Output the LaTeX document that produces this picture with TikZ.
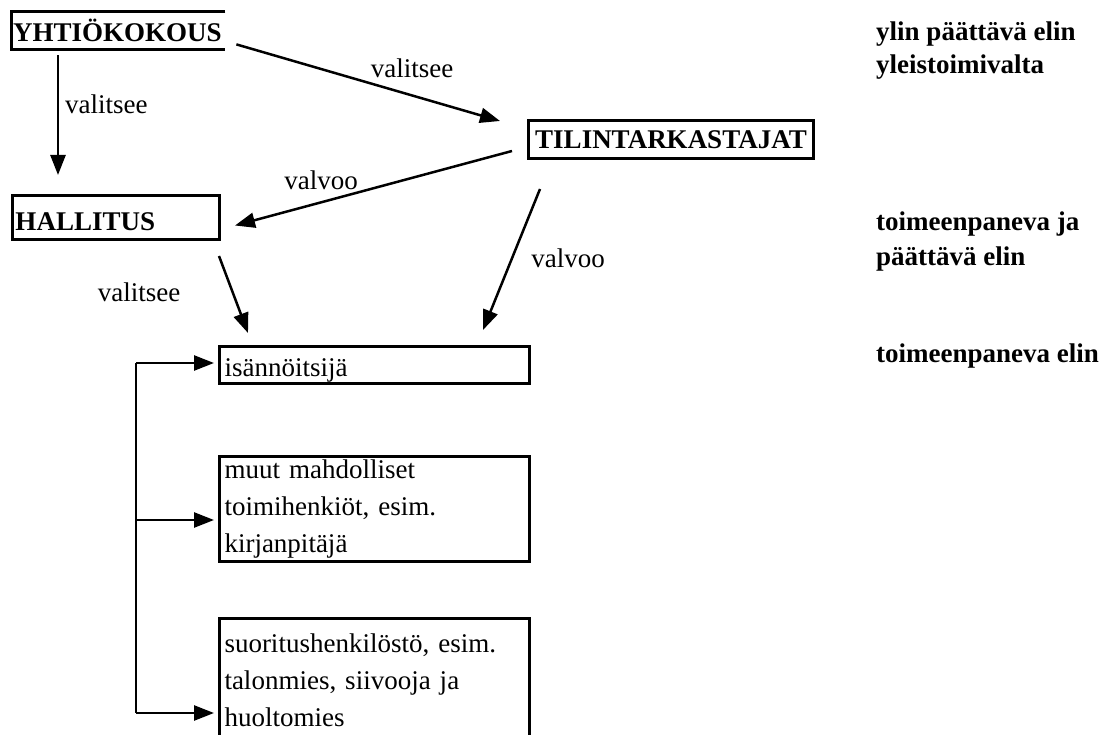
\documentclass[tikz,border=0pt]{standalone}
\usepackage{fontspec}
\setmainfont{Liberation Serif}
\usetikzlibrary{arrows.meta,calc}
\begin{document}
\begin{tikzpicture}[x=1pt,y=-1pt,
  every node/.style={font=\fontsize{27}{37}\selectfont, inner sep=0pt},
  box/.style={draw, line width=3pt, anchor=north west, inner xsep=5pt, inner ysep=0pt, align=left},
  bbox/.style={box, font=\fontsize{27}{37}\bfseries\selectfont},
  arr/.style={line width=2.5pt, -{Triangle[length=20pt,width=15pt]}},
  lbl/.style={anchor=center},
  side/.style={anchor=base west, font=\fontsize{27}{33}\bfseries\selectfont}]
\useasboundingbox (0,0) rectangle (1107,735);

% boxes
\node[anchor=north west, inner xsep=2pt, text width=210pt, minimum height=37pt, align=left,
      font=\fontsize{27}{37}\bfseries\selectfont] (yht) at (11,12) {YHTIÖKOKOUS};
\draw[line width=3pt] (yht.north east) -- (yht.north west) -- (yht.south west) -- (yht.south east);
\node[bbox, align=center, inner xsep=6pt, text width=273pt, minimum height=38pt] (til) at (527,119) {TILINTARKASTAJAT};
\node[bbox, inner xsep=3pt, text width=201pt, minimum height=44pt, text height=25pt, text depth=0pt] (hall) at (11,194) {HALLITUS};
\node[box, text width=300pt, minimum height=37pt, text height=22pt, text depth=0pt] (isa) at (218,345) {isännöitsijä};
\node[box, text width=300pt, minimum height=105pt] (muut) at (218,455) {muut mahdolliset\\toimihenkiöt, esim.\\kirjanpitäjä};
\node[box, text width=300pt, minimum height=124pt] (suor) at (218,617) {suoritushenkilöstö, esim.\\talonmies, siivooja ja\\huoltomies};

% arrows
\draw[arr] ($(yht.south west)+(47,6)$) -- ($(hall.north west)+(47,-19)$);
\draw[arr] ($(yht.south east)+(11,-5)$) -- ($(til.north west)+(-27,2)$);
\draw[arr] ($(til.south west)+(-15,-9)$) -- ($(hall.east)+(14,8)$);
\draw[arr] ($(hall.south east)+(-2,15)$) -- ($(isa.north west)+(30,-12)$);
\draw[arr] ($(til.south west)+(13,29)$) -- ($(isa.north east)+(-48,-15)$);

% labels
\node[anchor=west] (l1) at (65,104) {valitsee};
\node[lbl] (l2) at (412,68) {valitsee};
\node[lbl] (l3) at (321,180) {valvoo};
\node[lbl] (l4) at (139,292) {valitsee};
\node[lbl] (l5) at (568,258) {valvoo};

% bracket
\coordinate (bt) at (136,363);
\coordinate (bm) at (136,520);
\coordinate (bb) at (136,713);
\draw[line width=2.5pt] (bt) -- (bb);
\draw[arr, shorten >=4pt] (bt) -- (bt -| isa.west);
\draw[arr, shorten >=4pt] (bm) -- (bm -| muut.west);
\draw[arr, shorten >=4pt] (bb) -- (bb -| suor.west);

% side texts
\node[side] (s1) at (876,41) {ylin päättävä elin};
\node[side] (s2) at (876,74) {yleistoimivalta};
\node[side] (s3) at (876,230) {toimeenpaneva ja};
\node[side] (s4) at (876,265) {päättävä elin};
\node[side] (s5) at (876,362) {toimeenpaneva elin};
\end{tikzpicture}
\end{document}
